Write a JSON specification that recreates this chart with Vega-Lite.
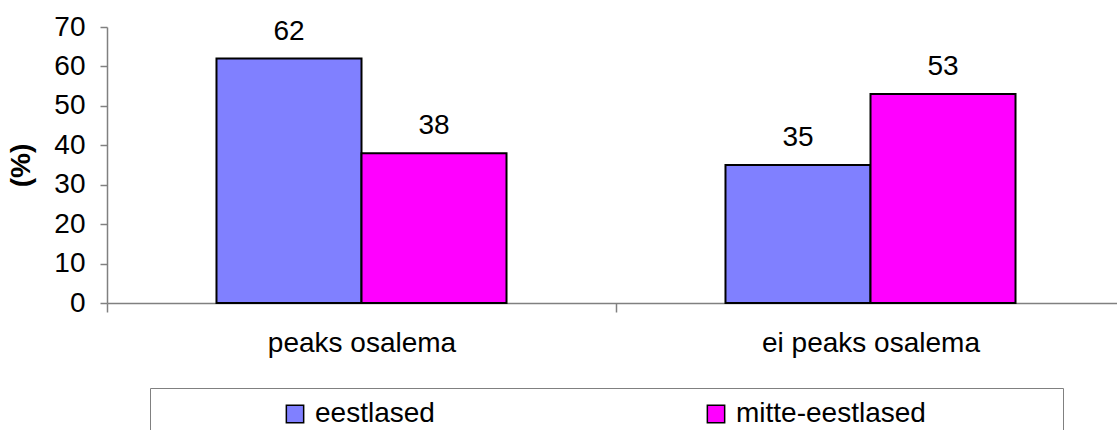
{
  "$schema": "https://vega.github.io/schema/vega-lite/v6.json",
  "width": 1010,
  "height": 276,
  "autosize": {"type": "none"},
  "padding": {"left": 107, "top": 27, "right": 0, "bottom": 127},
  "background": "white",
  "config": {"font": "Liberation Sans", "view": {"stroke": null}},
  "data": {
    "values": [
      {"grupp": "peaks osalema", "rahvus": "eestlased", "protsent": 62},
      {"grupp": "peaks osalema", "rahvus": "mitte-eestlased", "protsent": 38},
      {"grupp": "ei peaks osalema", "rahvus": "eestlased", "protsent": 35},
      {"grupp": "ei peaks osalema", "rahvus": "mitte-eestlased", "protsent": 53}
    ]
  },
  "encoding": {
    "x": {
      "field": "grupp",
      "type": "nominal",
      "sort": ["peaks osalema", "ei peaks osalema"],
      "scale": {"range": [0, 1018], "paddingInner": 0, "paddingOuter": 0},
      "axis": {
        "title": null,
        "labelAngle": 0,
        "labelFontSize": 28,
        "labelColor": "black",
        "labelPadding": 17,
        "labelLimit": 500,
        "domainColor": "#808080",
        "domainWidth": 1.5,
        "tickColor": "#808080",
        "tickWidth": 1.5,
        "tickSize": 9,
        "tickBand": "extent"
      }
    },
    "xOffset": {
      "field": "rahvus",
      "type": "nominal",
      "sort": ["eestlased", "mitte-eestlased"],
      "scale": {"paddingInner": 0, "paddingOuter": 0.755}
    },
    "y": {
      "field": "protsent",
      "type": "quantitative",
      "scale": {"domain": [0, 70], "nice": false},
      "axis": {
        "title": "(%)",
        "titleFontSize": 28,
        "titleFontWeight": "bold",
        "titleColor": "black",
        "titlePadding": 18,
        "values": [0, 10, 20, 30, 40, 50, 60, 70],
        "grid": false,
        "labelFontSize": 28,
        "labelColor": "black",
        "labelPadding": 15,
        "domainColor": "#808080",
        "domainWidth": 1.5,
        "tickColor": "#808080",
        "tickWidth": 1.5,
        "tickSize": 7
      }
    }
  },
  "layer": [
    {
      "mark": {"type": "bar", "stroke": "black", "strokeWidth": 2},
      "encoding": {
        "color": {
          "field": "rahvus",
          "type": "nominal",
          "scale": {"domain": ["eestlased", "mitte-eestlased"], "range": ["#8080FF", "#FF00FF"]},
          "legend": {
            "orient": "none",
            "legendX": 43,
            "legendY": 361,
            "direction": "horizontal",
            "title": " ",
            "titleOrient": "left",
            "titlePadding": 119,
            "titleFontSize": 28,
            "padding": 12,
            "strokeColor": "#808080",
            "symbolType": "square",
            "symbolSize": 300,
            "symbolStrokeColor": "black",
            "symbolStrokeWidth": 1.5,
            "symbolOpacity": 1,
            "labelFontSize": 28,
            "labelColor": "black",
            "labelOffset": 6,
            "columnPadding": 267,
            "labelLimit": 800,
            "labelExpr": "datum.label == 'mitte-eestlased' ? datum.label + '\u00a0\u00a0\u00a0\u00a0\u00a0\u00a0\u00a0\u00a0\u00a0\u00a0\u00a0\u00a0\u00a0\u00a0\u00a0\u00a0\u200b' : datum.label"
          }
        }
      }
    },
    {
      "mark": {"type": "text", "fontSize": 28, "color": "black", "baseline": "alphabetic", "dy": -19},
      "encoding": {"text": {"field": "protsent", "type": "quantitative"}}
    }
  ]
}
